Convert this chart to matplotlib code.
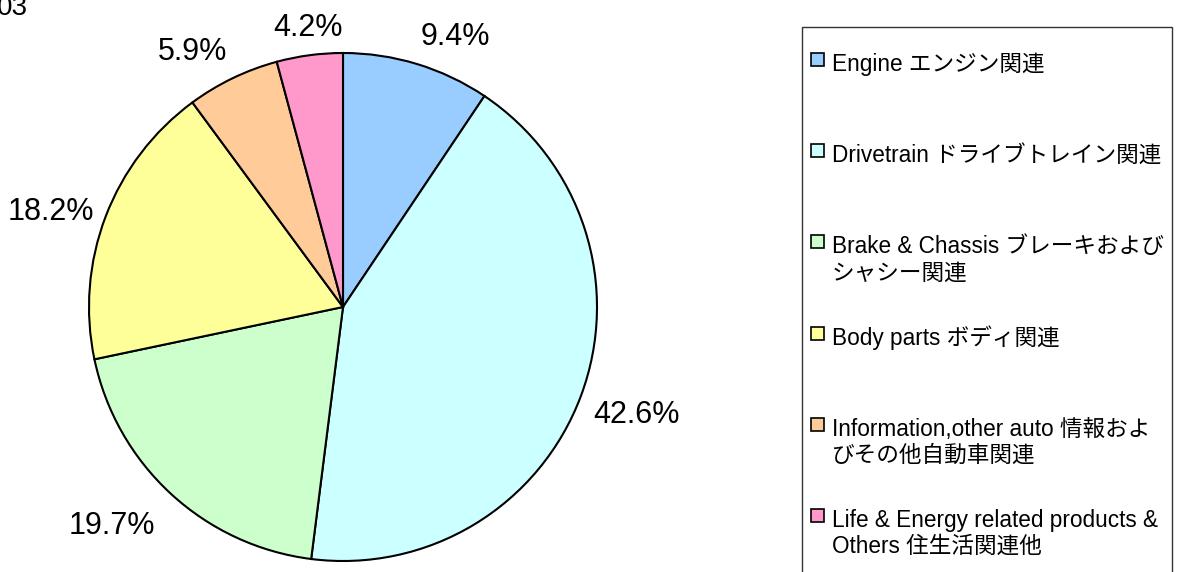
import numpy as np
import matplotlib
matplotlib.use("Agg")
import matplotlib.pyplot as plt
from matplotlib.patches import Rectangle

# share of sales by product segment (%)
labels = [
    "Engine エンジン関連",
    "Drivetrain ドライブトレイン関連",
    "Brake & Chassis ブレーキおよび\nシャシー関連",
    "Body parts ボディ関連",
    "Information,other auto 情報およ\nびその他自動車関連",
    "Life & Energy related products &\nOthers 住生活関連他",
]
shares = [9.4, 42.6, 19.7, 18.2, 5.9, 4.2]
colors = ["#99CCFF", "#CCFFFF", "#CCFFCC", "#FFFF99", "#FFCC99", "#FF99CC"]
title_part = "03"

W, H = 1179, 572
fig = plt.figure(figsize=(W / 100, H / 100), dpi=100)

# pie axes: centre (343, 307), radius 254 px
cx, cy, R = 343, 307, 254
ax = fig.add_axes([(cx - R) / W, (H - cy - R) / H, 2 * R / W, 2 * R / H])
wedges, _ = ax.pie(shares, colors=colors, startangle=90, counterclock=False,
                   wedgeprops=dict(edgecolor="black", linewidth=1.5))
ax.set_xlim(-1, 1)
ax.set_ylim(-1, 1)
ax.set_axis_off()

# percent labels just outside the rim, aligned away from the pie (like Excel)
for w, v in zip(wedges, shares):
    ang = np.deg2rad((w.theta1 + w.theta2) / 2)
    c, s = np.cos(ang), np.sin(ang)
    ha = "left" if c > 0.25 else ("right" if c < -0.25 else "center")
    va = "bottom" if s > 0.4 else ("top" if s < -0.3 else "center")
    r = 1.05 if s > -0.5 else 1.09
    ax.text(r * c, r * s, f"{v:.1f}%", ha=ha, va=va, fontsize=22,
            family="Liberation Sans", clip_on=False)

# legend drawn by hand (Excel style: wide spacing, wrapped labels)
fig.patches.append(Rectangle((802 / W, -0.1), (1172 - 802) / W, (H - 27) / H + 0.1,
                             transform=fig.transFigure, facecolor="none",
                             edgecolor="#333333", linewidth=1))
leg_font = ["Liberation Sans", "Noto Sans CJK JP"]
for i, (lab, col) in enumerate(zip(labels, colors)):
    base = 71 + i * 91.2
    fig.patches.append(Rectangle((811 / W, (H - base + 5) / H), 13 / W, 13 / H,
                                 transform=fig.transFigure, facecolor=col,
                                 edgecolor="black", linewidth=1.2))
    for j, line in enumerate(lab.split("\n")):
        fig.text(832 / W, (H - base - j * 26) / H, line, ha="left", va="baseline",
                 fontsize=16.3, family=leg_font)

fig.text(28 / W, (H - 15) / H, title_part, ha="right", va="baseline",
         fontsize=20, family="Liberation Sans")

fig.savefig("out.png", dpi=100)
